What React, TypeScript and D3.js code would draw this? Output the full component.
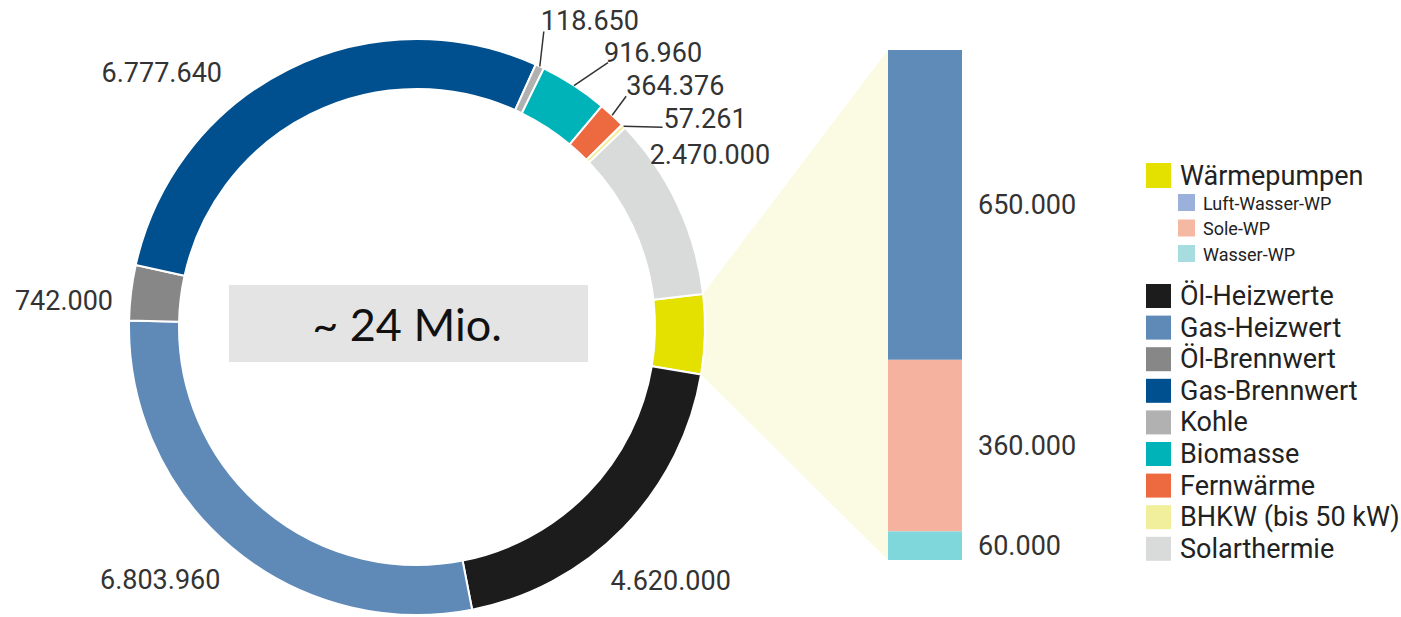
import React from "react";
import * as d3 from "d3";

const categories = [
  "Wärmepumpen",
  "Öl-Heizwerte",
  "Gas-Heizwert",
  "Öl-Brennwert",
  "Gas-Brennwert",
  "Kohle",
  "Biomasse",
  "Fernwärme",
  "BHKW (bis 50 kW)",
  "Solarthermie",
];
const values = [1070000, 4620000, 6803960, 742000, 6777640, 118650, 916960, 364376, 57261, 2470000];
const valueLabels = ["", "4.620.000", "6.803.960", "742.000", "6.777.640", "118.650", "916.960", "364.376", "57.261", "2.470.000"];
const colors = ["#e4e000", "#1c1c1c", "#5f8ab8", "#878787", "#00508f", "#b1b1b1", "#00b3b8", "#ed6a40", "#f1ee9c", "#d9dbdb"];

const wpCategories = ["Luft-Wasser-WP", "Sole-WP", "Wasser-WP"];
const wpValues = [650000, 360000, 60000];
const wpLabels = ["650.000", "360.000", "60.000"];
const wpBarColors = ["#5f8bb8", "#f5b39f", "#7fd7db"];
const wpLegendColors = ["#9cb0dc", "#f5b8a2", "#a8dde0"];

const centerText = "~ 24 Mio.";

// label layout: offset from outer arc point at mid-angle; leader end offset (tx, ty) from label point
const labelLayout: { dx: number; dy: number; anchor: string; leader: boolean; tx?: number; ty?: number }[] = [
  { dx: 0, dy: 0, anchor: "start", leader: false },
  { dx: -13, dy: 53, anchor: "start", leader: false },
  { dx: -11, dy: 33, anchor: "end", leader: false },
  { dx: -18, dy: 8, anchor: "end", leader: false },
  { dx: -66, dy: 3, anchor: "end", leader: false },
  { dx: 1, dy: -45, anchor: "start", leader: true, tx: 3, ty: 10 },
  { dx: 30, dy: -33, anchor: "start", leader: true, tx: 4, ty: 10 },
  { dx: 14, dy: -29, anchor: "start", leader: true, tx: 0, ty: 10 },
  { dx: 40, dy: -7, anchor: "start", leader: true, tx: -1, ty: 8 },
  { dx: -28, dy: -50, anchor: "start", leader: false },
];

export default function App() {
  const W = 1401, H = 617;
  const cx = 417, cy = 327;
  const R = 288, r = 238;
  const startDeg = 83.4;

  const pie = d3
    .pie<number>()
    .sort(null)
    .value((d) => d)
    .startAngle((startDeg * Math.PI) / 180)
    .endAngle(((startDeg + 360) * Math.PI) / 180);
  const arcs = pie(values);
  const arcGen = d3.arc<d3.PieArcDatum<number>>().innerRadius(r).outerRadius(R);

  const pt = (a: number, rad: number): [number, number] => [cx + rad * Math.sin(a), cy - rad * Math.cos(a)];

  // stacked bar (first category on top)
  const barX = 888, barW = 74;
  const wpTotal = d3.sum(wpValues);
  const y = d3.scaleLinear().domain([0, wpTotal]).range([50, 560]);
  let acc = 0;
  const barSegs = wpValues.map((v, i) => {
    const s = { y0: y(acc), y1: y(acc + v), i };
    acc += v;
    return s;
  });

  const wp = arcs[0];
  const p1 = pt(wp.startAngle, R);
  const p2 = pt(wp.endAngle, R);
  const poly = [p1, [barX, y(0)], [barX, y(wpTotal)], p2];

  const font = "Roboto, 'Noto Sans', sans-serif";
  const legendY0 = 296, legendStep = 31.6;

  return (
    <svg width={W} height={H} style={{ position: "absolute", left: 0, top: 0 }}>
      <rect x={0} y={0} width={W} height={H} fill="#fff" />
      <polygon points={poly.map((p) => p.join(",")).join(" ")} fill="#fbfae3" />
      <g transform={`translate(${cx},${cy})`}>
        {arcs.map((a, i) => (
          <path key={i} d={arcGen(a) || ""} fill={colors[i]} stroke="#fff" strokeWidth={2} />
        ))}
      </g>
      <rect x={229} y={285} width={359} height={77} fill="#e4e4e4" />
      <text x={407} y={341} textAnchor="middle" fontFamily="Lato, 'Open Sans', sans-serif" fontSize={45} fill="#111">
        {centerText}
      </text>
      {arcs.map((a, i) => {
        if (!valueLabels[i]) return null;
        const mid = (a.startAngle + a.endAngle) / 2;
        const [ox, oy] = pt(mid, R);
        const L = labelLayout[i];
        const lx = ox + L.dx, ly = oy + L.dy;
        return (
          <g key={i}>
            {L.leader && <line x1={ox} y1={oy} x2={lx + (L.tx || 0)} y2={ly + (L.ty || 0)} stroke="#333" strokeWidth={1.5} />}
            <text x={lx} y={ly} textAnchor={L.anchor} dominantBaseline="central" fontFamily={font} fontSize={27} fill="#333">
              {valueLabels[i]}
            </text>
          </g>
        );
      })}
      {barSegs.map((s) => (
        <g key={s.i}>
          <rect x={barX} y={s.y0} width={barW} height={s.y1 - s.y0} fill={wpBarColors[s.i]} />
          <text x={978} y={(s.y0 + s.y1) / 2} dominantBaseline="central" fontFamily={font} fontSize={27} fill="#333">
            {wpLabels[s.i]}
          </text>
        </g>
      ))}
      {/* legend */}
      <rect x={1146} y={163} width={25} height={25} fill={colors[0]} />
      <text x={1180} y={176} dominantBaseline="central" fontFamily={font} fontSize={27} fill="#222">
        {categories[0]}
      </text>
      {wpCategories.map((c, i) => (
        <g key={c}>
          <rect x={1178} y={194 + i * 25.5} width={17} height={17} fill={wpLegendColors[i]} />
          <text x={1203} y={203 + i * 25.5} dominantBaseline="central" fontFamily={font} fontSize={18} fill="#222">
            {c}
          </text>
        </g>
      ))}
      {categories.slice(1).map((c, j) => {
        const i = j + 1;
        const yy = legendY0 + j * legendStep;
        return (
          <g key={c}>
            <rect x={1146} y={yy - 12} width={25} height={24} fill={colors[i]} />
            <text x={1180} y={yy} dominantBaseline="central" fontFamily={font} fontSize={27} fill="#222">
              {c}
            </text>
          </g>
        );
      })}
    </svg>
  );
}
